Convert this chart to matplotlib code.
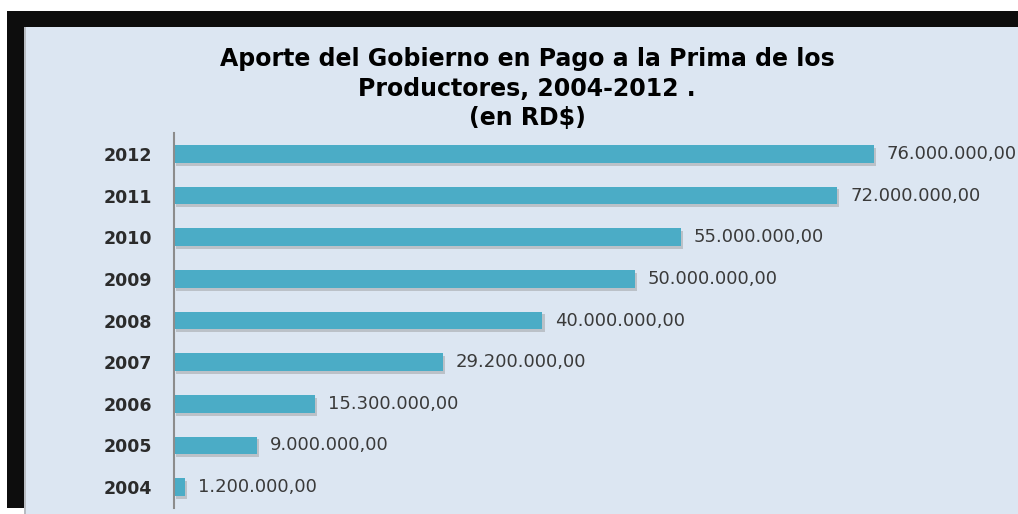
import matplotlib
matplotlib.use("Agg")
import matplotlib.pyplot as plt
import matplotlib.patheffects as pe
from matplotlib.patches import Rectangle

years = ["2004", "2005", "2006", "2007", "2008", "2009", "2010", "2011", "2012"]
aporte = [1200000, 9000000, 15300000, 29200000, 40000000, 50000000,
          55000000, 72000000, 76000000]
title = "Aporte del Gobierno en Pago a la Prima de los\nProductores, 2004-2012 .\n(en RD\\$)"

W, H = 1018, 514
BAR = "#4BACC6"
PANEL = "#DCE6F2"


def fmt_es(v):
    # 1,200,000.00 -> 1.200.000,00
    s = f"{v:,.2f}"
    return s.replace(",", "X").replace(".", ",").replace("X", ".")


fig = plt.figure(figsize=(W / 100, H / 100), dpi=100)
fig.patch.set_facecolor("white")

# black frame and light panel behind the chart
fig.patches.append(Rectangle((7 / W, (H - 508) / H), (W - 7) / W, (508 - 11) / H,
                             transform=fig.transFigure, facecolor="#0d0d0d",
                             edgecolor="none", zorder=-3))
fig.patches.append(Rectangle((24 / W, 0), (W - 24) / W, (H - 27) / H,
                             transform=fig.transFigure, facecolor=PANEL,
                             edgecolor="none", zorder=-2))
fig.patches.append(Rectangle((24 / W, 0), 2 / W, (H - 27) / H,
                             transform=fig.transFigure, facecolor="#b8bcc2",
                             edgecolor="none", zorder=-1))

ax = fig.add_axes([174 / W, (H - 508) / H, (W - 174) / W, 375 / H])
ax.set_facecolor("none")

y = list(range(len(years)))
bars = ax.barh(y, aporte, height=0.43, color=BAR, zorder=2)
for b in bars:
    b.set_path_effects([pe.SimplePatchShadow(offset=(1.5, -2), shadow_rgbFace="#8a8a8a",
                                             alpha=0.4), pe.Normal()])

px = 76000000 / 700.0
ax.set_xlim(0, (W - 174) * px)
ax.set_ylim(-0.5, len(years) - 0.5)

for yi, v in zip(y, aporte):
    ax.text(v + 13 * px, yi, fmt_es(v), va="center", ha="left",
            fontsize=13, color="#3a3a3a", clip_on=False)

ax.set_yticks(y)
ax.set_yticklabels(years, fontsize=12.5, fontweight="bold", color="#2b2b2b")
ax.tick_params(axis="y", length=0, pad=16)
ax.set_xticks([])
for s in ["top", "right", "bottom"]:
    ax.spines[s].set_visible(False)
ax.spines["left"].set_color("#8c8c8c")
ax.spines["left"].set_linewidth(1.5)

fig.text(527 / W, (H - 47) / H, title, ha="center", va="top", fontsize=17,
         fontweight="bold", color="black", linespacing=1.3)

fig.savefig("out.png", dpi=100)
